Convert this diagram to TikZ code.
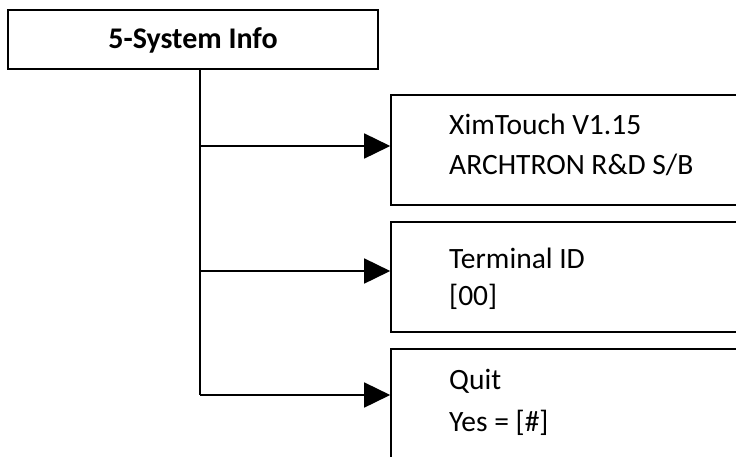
\documentclass[tikz,border=0pt]{standalone}
\usepackage{fontspec}
\setmainfont{Carlito}
\usetikzlibrary{arrows.meta}
\begin{document}
\begin{tikzpicture}[x=1pt,y=-1pt,
  box/.style={draw=black,line width=1.6pt,fill=white,inner sep=0pt},
  lbl/.style={anchor=base west,inner sep=0pt,font=\fontsize{29.5}{34}\selectfont},
  conn/.style={line width=1.6pt},
  arr/.style={conn,-{Triangle[length=26pt,width=25pt]}}]
\useasboundingbox (0,0) rectangle (736,456);
\node[box,minimum width=370pt,minimum height=59pt] (top) at (193,39.5) {};
\node[font=\bfseries\fontsize{30}{34}\selectfont,inner sep=0pt] (toplbl) at (193,40) {5-System Info};
\node[box,minimum width=370pt,minimum height=110pt] (b1) at (576,150) {};
\node[box,minimum width=370pt,minimum height=110pt] (b2) at (576,277) {};
\node[box,minimum width=370pt,minimum height=120pt] (b3) at (576,409) {};
\node[lbl] (t1a) at (449,134) {XimTouch V1.15};
\node[lbl] (t1b) at (449,174) {ARCHTRON R\&D S/B};
\node[lbl] (t2a) at (449,268) {Terminal ID};
\node[lbl] (t2b) at (449,305) {[00]};
\node[lbl] (t3a) at (449,389) {Quit};
\node[lbl] (t3b) at (449,431) {Yes = [\#]};
\coordinate (c1) at (200,146);
\coordinate (c2) at (200,271);
\coordinate (c3) at (200,395);
\draw[conn] (c1 |- top.south) -- (c3);
\draw[arr] (c1) -- (c1 -| b1.west);
\draw[arr] (c2) -- (c2 -| b2.west);
\draw[arr] (c3) -- (c3 -| b3.west);
\end{tikzpicture}
\end{document}
